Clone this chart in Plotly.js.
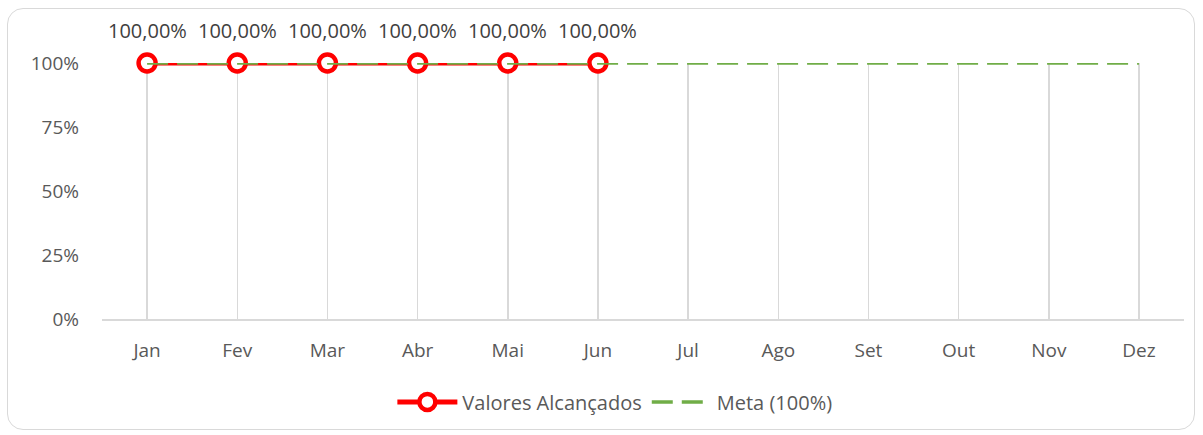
<!DOCTYPE html>
<html><head><meta charset="utf-8">
<script src="https://cdn.plot.ly/plotly-3.0.1.min.js"></script>
<style>
html,body{margin:0;padding:0;background:#fff;}
#wrap{position:relative;width:1203px;height:435px;}
#chart{width:1203px;height:435px;}
#frame{position:absolute;left:7px;top:8px;width:1186px;height:420px;border:1.5px solid #d9d9d9;border-radius:16px;pointer-events:none;}
</style></head>
<body>
<div id="wrap"><div id="chart"></div><div id="frame"></div></div>
<script>
const months = ["Jan","Fev","Mar","Abr","Mai","Jun","Jul","Ago","Set","Out","Nov","Dez"];
const valores = [1,1,1,1,1,1,null,null,null,null,null,null];
const valoresLabels = ["100,00%","100,00%","100,00%","100,00%","100,00%","100,00%","","","","","",""];
const meta = [1,1,1,1,1,1,1,1,1,1,1,1];
const yTicks = [0,0.25,0.5,0.75,1];
const yTickText = ["0%","25%","50%","75%","100%"];

const font = "'Open Sans', Lato, sans-serif";
const traces = [
  {x: months, y: valores, name: "Valores Alcançados", type: "scatter", mode: "lines+markers",
   line: {color: "#ff0000", width: 5},
   marker: {symbol: "circle", size: 17, color: "#ffffff", line: {color: "#ff0000", width: 4.5}},
   cliponaxis: false, hoverinfo: "skip"},
  {x: months, y: meta, name: "Meta (100%)", type: "scatter", mode: "lines",
   line: {color: "#70ad47", width: 3.5, dash: "21px,9px"}, cliponaxis: false, hoverinfo: "skip"}
];
const annotations = [];
months.forEach((m, i) => {
  if (valores[i] !== null) {
    annotations.push({x: m, y: valores[i], xref: "x", yref: "y", text: valoresLabels[i], showarrow: false,
      yshift: 33, font: {family: font, size: 20, color: "#404040"}});
  }
});
const layout = {
  width: 1203, height: 435,
  margin: {l: 102, r: 19, t: 63, b: 116},
  paper_bgcolor: "#ffffff", plot_bgcolor: "#ffffff",
  font: {family: font, size: 19, color: "#595959"},
  showlegend: true,
  annotations: annotations,
  legend: {orientation: "h", x: 0.474, xanchor: "center", yref: "container", y: 0.076, yanchor: "middle",
           font: {family: font, size: 20, color: "#595959"}, itemwidth: 60, tracegroupgap: 0},
  xaxis: {type: "category", range: [-0.5, 11.5], showgrid: true, gridcolor: "#d9d9d9", gridwidth: 1.5,
          showline: true, linecolor: "#d9d9d9", linewidth: 1.5, ticks: "", zeroline: false,
          ticklabelstandoff: 14, tickfont: {family: font, size: 19, color: "#595959"}},
  yaxis: {range: [0, 1], tickvals: yTicks, ticktext: yTickText, showgrid: false, zeroline: false,
          showline: false, ticks: "", ticklabelstandoff: 22, tickfont: {family: font, size: 19, color: "#595959"}}
};
Plotly.newPlot("chart", traces, layout, {displayModeBar: false, staticPlot: true});
</script>
</body></html>
